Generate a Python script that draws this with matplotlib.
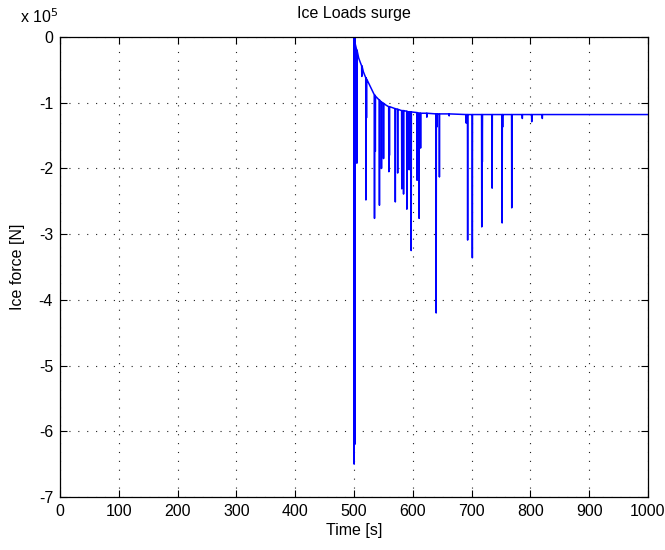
import matplotlib
matplotlib.use("Agg")
import matplotlib.pyplot as plt
from matplotlib.ticker import FuncFormatter

plt.rcParams['font.family'] = ['Liberation Sans', 'DejaVu Sans']

# Smooth part of the surge load: (time [s], force [N])
base_t = [0.0, 499.9, 502.0, 508.0, 516.0, 526.0, 555.0, 623.0, 690.0, 1000.0]
base_f = [0.0, 0.0, -0.10e5, -0.32e5, -0.53e5, -0.72e5, -1.04e5, -1.16e5, -1.18e5, -1.18e5]

# Ice-breaking peaks: time [s], level just before the peak [N], peak force [N]
peak_t = [500.0, 501.0, 504.6, 513.0, 520.0, 521.0, 534.6, 536.0, 543.0, 546.5,
          550.0, 559.0, 560.0, 570.0, 574.0, 581.0, 584.0, 589.6, 592.0, 593.5,
          597.0, 607.0, 610.5, 613.0, 623.6, 639.5, 640.5, 645.0, 661.6, 690.5,
          693.0, 701.0, 717.0, 718.0, 734.7, 751.7, 752.5, 768.0, 786.0, 802.0,
          820.0]
peak_base = [0.0, -0.02e5, -0.20e5, -0.44e5, -0.62e5, -0.64e5, -0.88e5, -0.90e5, -0.96e5, -0.99e5,
             -1.01e5, -1.06e5, -1.06e5, -1.09e5, -1.10e5, -1.12e5, -1.12e5, -1.13e5, -1.14e5, -1.14e5,
             -1.14e5, -1.15e5, -1.16e5, -1.16e5, -1.16e5, -1.17e5, -1.17e5, -1.17e5, -1.17e5, -1.18e5,
             -1.18e5, -1.18e5, -1.18e5, -1.18e5, -1.18e5, -1.18e5, -1.18e5, -1.18e5, -1.18e5, -1.18e5,
             -1.18e5]
peak_f = [-6.50e5, -6.20e5, -1.92e5, -0.60e5, -2.48e5, -1.23e5, -2.76e5, -1.74e5, -2.56e5, -2.00e5,
          -1.85e5, -2.05e5, -1.80e5, -2.51e5, -2.07e5, -2.31e5, -2.39e5, -2.62e5, -1.87e5, -2.02e5,
          -3.25e5, -2.18e5, -2.76e5, -1.69e5, -1.22e5, -4.20e5, -1.37e5, -2.13e5, -1.20e5, -1.31e5,
          -3.09e5, -3.36e5, -2.89e5, -1.90e5, -2.30e5, -2.83e5, -1.37e5, -2.60e5, -1.24e5, -1.29e5,
          -1.24e5]

x_ticks = [0, 100, 200, 300, 400, 500, 600, 700, 800, 900, 1000]
y_ticks = [0, -1e5, -2e5, -3e5, -4e5, -5e5, -6e5, -7e5]

# Assemble the time history: each peak is a quick drop and recovery
pts = list(zip(base_t, base_f))
for t, b, f in zip(peak_t, peak_base, peak_f):
    pts += [(t, b), (t + 0.3, f), (t + 0.6, b)]
pts.sort(key=lambda p: p[0])
t_all = [p[0] for p in pts]
f_all = [p[1] for p in pts]

fig = plt.figure(figsize=(6.65, 5.5), dpi=100)
ax = fig.add_axes([0.0902, 0.0964, 0.8842, 0.8363])

ax.plot(t_all, f_all, color=(0, 0, 1), linewidth=1.1)

ax.set_xlim(0, 1000)
ax.set_ylim(-7e5, 0)
ax.set_xticks(x_ticks)
ax.set_yticks(y_ticks)
ax.yaxis.set_major_formatter(FuncFormatter(lambda v, pos: f"{v / 1e5:g}"))

ax.grid(True, color='#222222', linestyle=(0, (1, 7)), linewidth=0.8)
ax.tick_params(direction='in', top=True, right=True, length=5, width=0.8,
               labelsize=11.5, pad=5)
for s in ax.spines.values():
    s.set_linewidth(0.9)

ax.set_title('Ice Loads surge', fontsize=11.5, pad=14)
ax.set_xlabel('Time [s]', fontsize=11.5, labelpad=3)
ax.set_ylabel('Ice force [N]', fontsize=11.5, labelpad=10)
ax.text(-0.002, 1.025, r'x 10$^5$', transform=ax.transAxes, fontsize=11.5,
        ha='right', va='bottom')

fig.savefig('out.png', dpi=100)
